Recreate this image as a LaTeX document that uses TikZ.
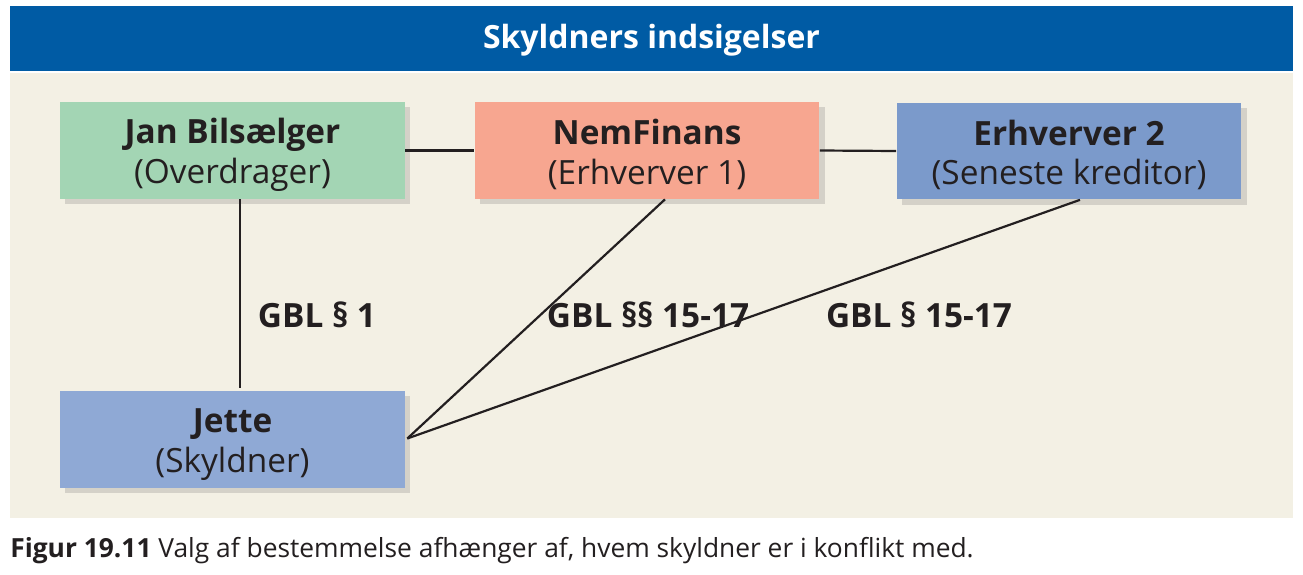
\documentclass[tikz,border=0pt]{standalone}
\usepackage{fontspec}
\setmainfont{Open Sans}
\usetikzlibrary{calc,shadows}

\definecolor{headblue}{RGB}{0,91,164}
\definecolor{paper}{RGB}{243,240,228}
\definecolor{ink}{RGB}{35,31,32}
\definecolor{mint}{RGB}{163,213,180}
\definecolor{salmon}{RGB}{247,166,144}
\definecolor{steel}{RGB}{123,154,203}
\definecolor{lightsteel}{RGB}{143,169,213}

\newcommand{\topgap}{\rule{0pt}{19pt}}

\begin{document}
\begin{tikzpicture}[x=0.02cm,y=-0.02cm,font=\fontsize{19}{22.7}\selectfont]
    \tikzstyle{party}=[rectangle,inner sep=0,minimum width=6.9cm,minimum height=1.94cm,align=center,text=ink,
        drop shadow={shadow xshift=3pt,shadow yshift=-3pt,opacity=0.22,fill=black!60}]
    \tikzstyle{link}=[draw=ink,line width=1.25pt]
    \tikzstyle{law}=[font=\fontsize{19}{22.7}\selectfont\bfseries,text=ink]

    \useasboundingbox (0,0) rectangle (1303,575);
    \fill[white] (0,0) rectangle (1303,575);
    \fill[headblue] (10,6) rectangle (1293,71);
    \fill[paper] (10,73) rectangle (1293,518);
    \node(title)[text=white,font=\fontsize{18.2}{22}\selectfont\bfseries] at (651.5,40) {Skyldners indsigelser};

    % parterne
    \node(jan)[party,fill=mint] at (232.5,150.5) {\topgap\textbf{Jan Bilsælger}\\(Overdrager)};
    \node(nem)[party,fill=salmon] at (647,150.5) {\topgap\textbf{NemFinans}\\(Erhverver 1)};
    \node(erh)[party,fill=steel] at (1069,151) {\topgap\textbf{Erhverver 2}\\(Seneste kreditor)};
    \node(jette)[party,fill=lightsteel] at (232.5,439.5) {\topgap\textbf{Jette}\\(Skyldner)};

    % forbindelser
    \draw[link] (jan.east) -- (nem.west);
    \draw[link] (nem.east) -- (erh.west);
    \draw[link] ($(jan.south)+(7.5,0)$) -- ($(jette.north)+(7.5,-3)$);
    \draw[link] ($(nem.south)+(18,0)$) -- ($(jette.east)+(2,-1)$);
    \draw[link] ($(erh.south)+(11,0)$) -- ($(jette.east)+(2,-1)$);

    \node(gbl1)[law] at (317,315) {GBL § 1};
    \node(gbl2)[law] at (648,315) {GBL §§ 15-17};
    \node(gbl3)[law] at (919,315) {GBL § 15-17};

    \node(caption)[anchor=west,text=ink,font=\fontsize{15}{18}\selectfont,inner sep=0] at (10,551)
        {\textbf{Figur 19.11} Valg af bestemmelse afhænger af, hvem skyldner er i konflikt med.};
\end{tikzpicture}
\end{document}
